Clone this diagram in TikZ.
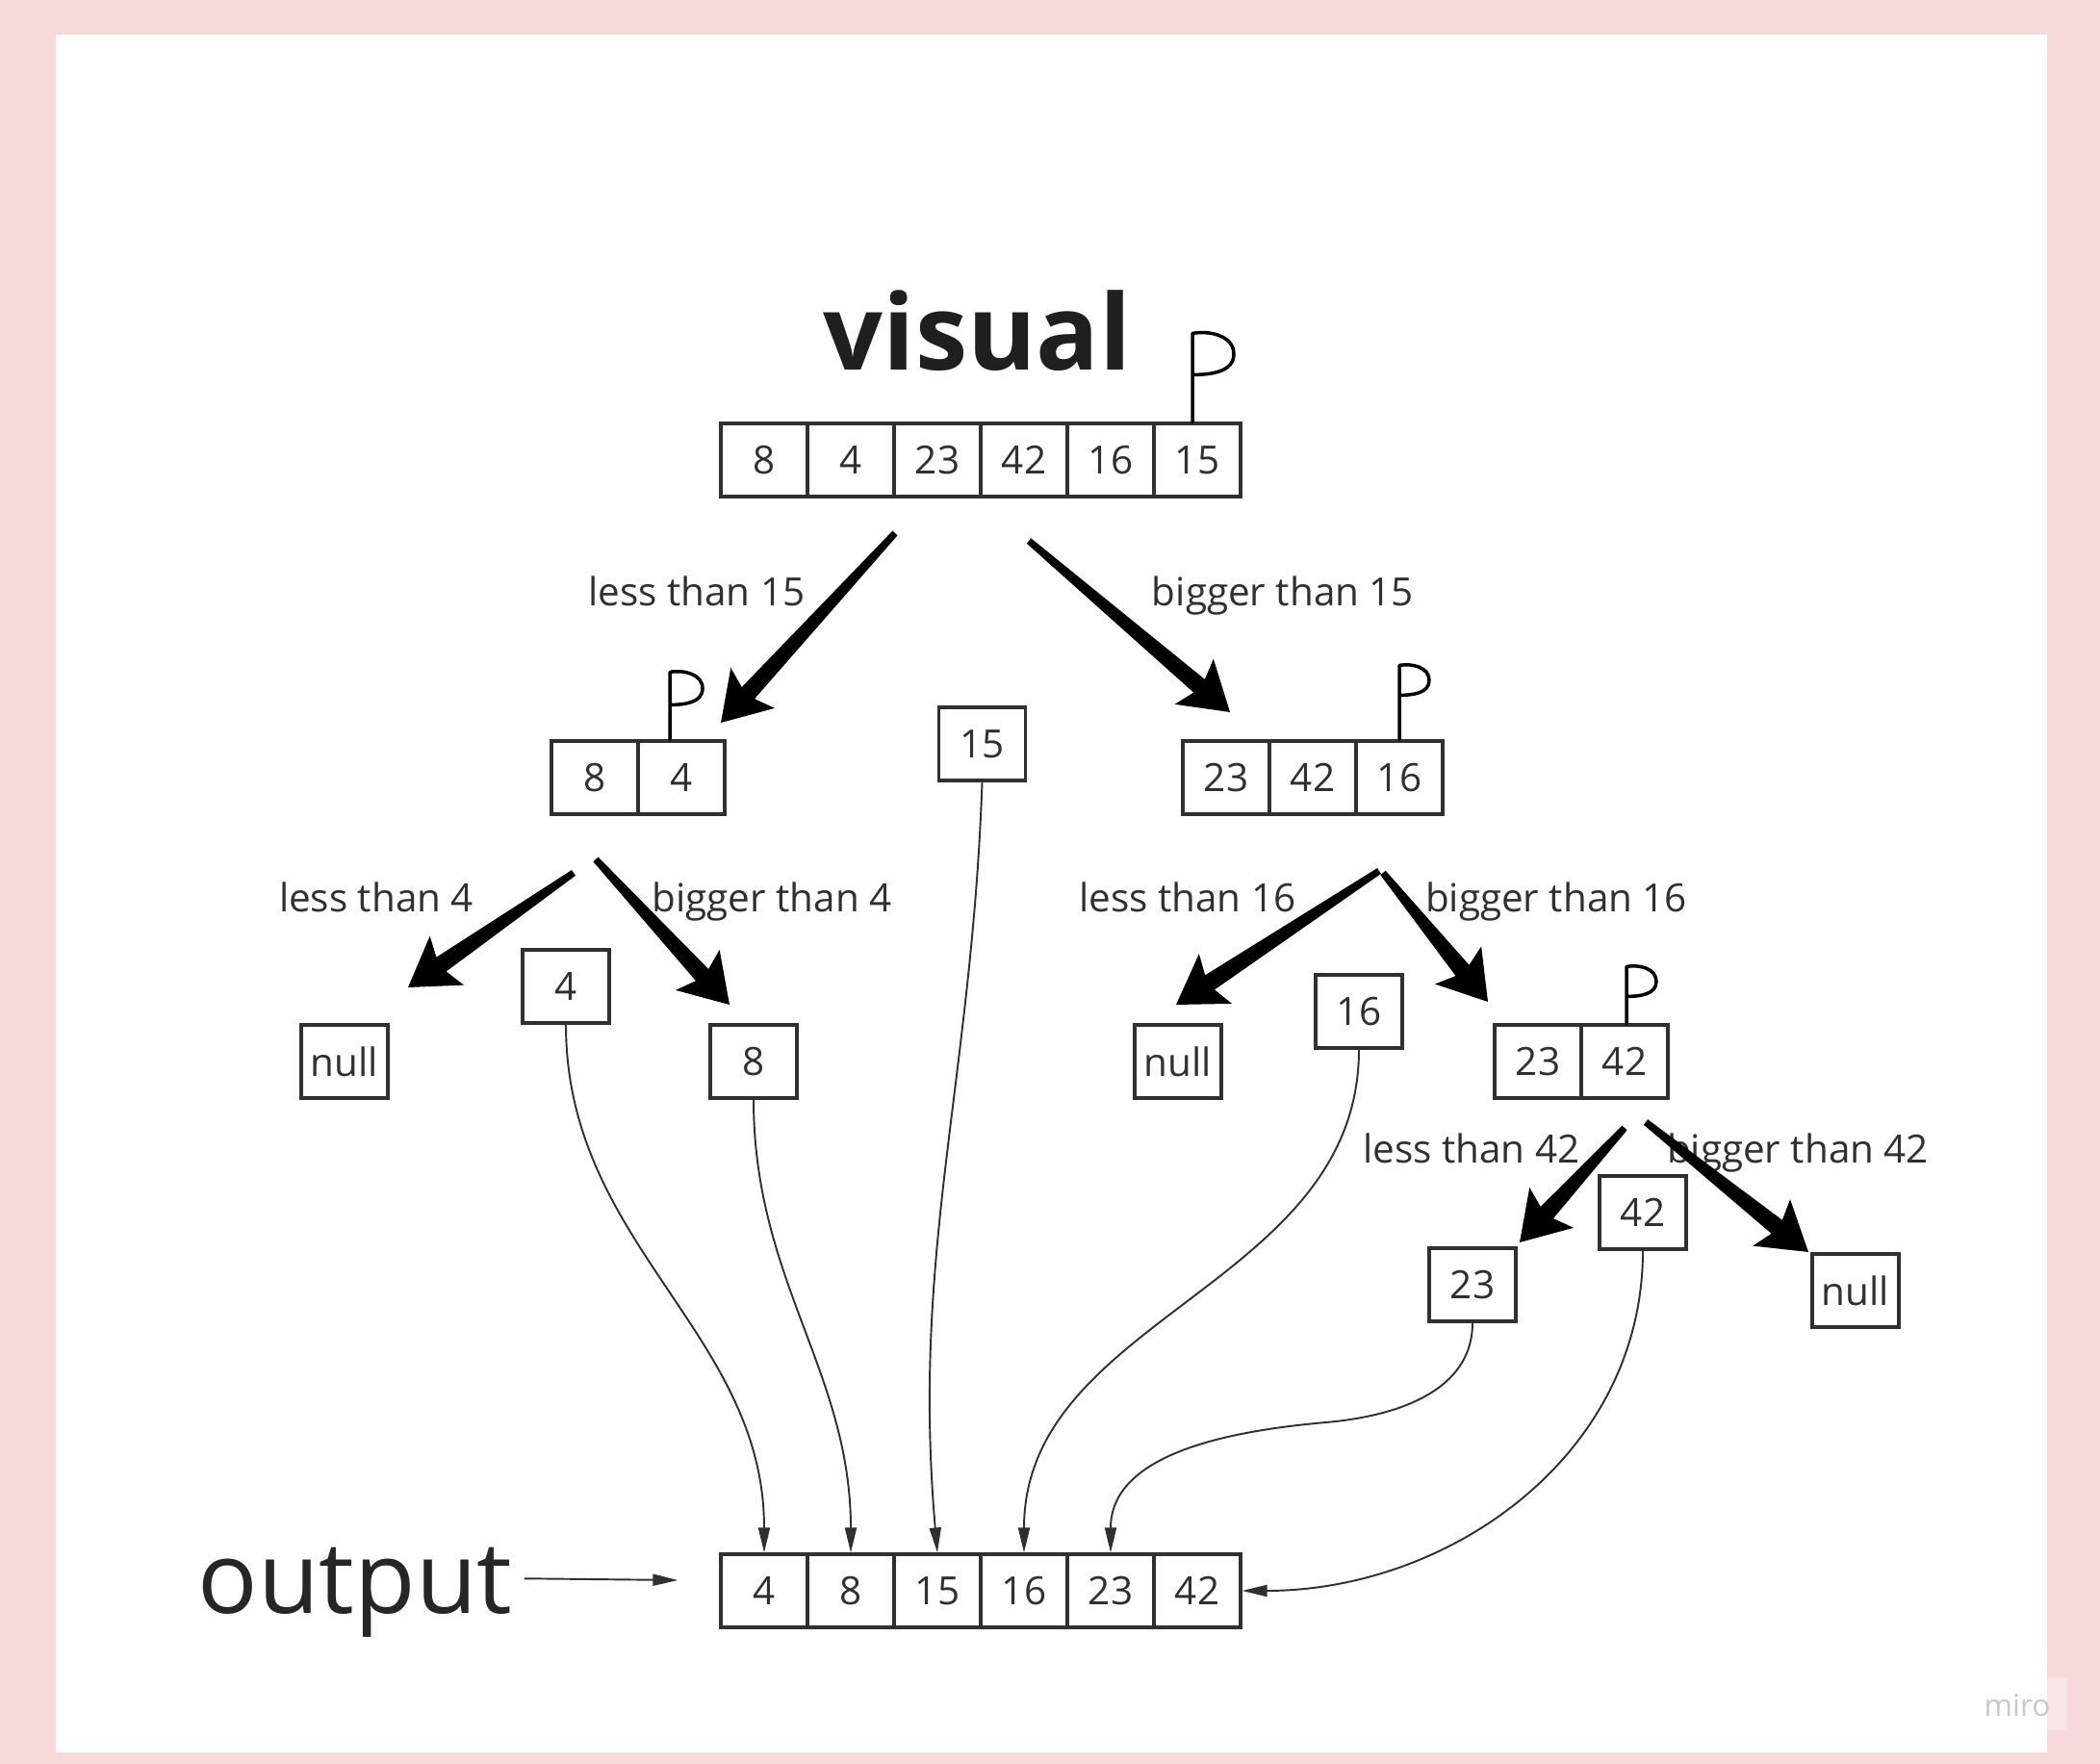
\documentclass[tikz,border=0pt]{standalone}
\usepackage{fontspec}
\setmainfont{Open Sans}
\usepackage{xcolor}
\usetikzlibrary{arrows.meta, positioning, calc}

\definecolor{bgpink}{RGB}{247,217,219}
\definecolor{wmpink}{RGB}{250,228,230}
\definecolor{ink}{RGB}{48,48,48}
\definecolor{wmgray}{RGB}{200,198,212}

% pivot flag above a cell: node, xshift, stem, loop size
\newcommand{\pflag}[4]{%
    \draw[flag] ([xshift=#2cm]#1.north) -- ++(0,#3)
        to[out=10,in=90] ++(#4,-0.5*#4) to[out=-90,in=0] ++(-#4,-0.5*#4);}

% tapered split arrow: tail, tip
\newcommand{\bigarrow}[2]{%
    \coordinate (jn) at ($(#2)!0.42cm!(#1)$);
    \coordinate (bb) at ($(#2)!0.49cm!(#1)$);
    \fill ($(#1)!0.035cm!90:(#2)$) -- ($(jn)!0.09cm!90:(#2)$) -- ($(bb)!0.31cm!90:(#2)$)
        -- (#2) -- ($(bb)!0.31cm!-90:(#2)$) -- ($(jn)!0.09cm!-90:(#2)$)
        -- ($(#1)!0.035cm!-90:(#2)$) -- cycle;}

\begin{document}
\begin{tikzpicture}[
    cell/.style={draw=ink, line width=0.9pt, minimum width=0.9cm, minimum height=0.76cm,
        inner sep=0pt, text=ink, font=\fontsize{11.5}{13}\selectfont},
    lbl/.style={text=ink, font=\fontsize{11.5}{13}\selectfont},
    flow/.style={draw=ink, line width=0.55pt, -{Triangle[length=0.26cm,width=0.12cm]}},
    flag/.style={line width=1pt, line cap=round, line join=round}
]
    % Frame
    \useasboundingbox (0,0) rectangle (21.82,18.33);
    \fill[bgpink] (0,0) rectangle (21.82,18.33);
    \fill[wmpink] (21.05,0.35) rectangle (21.48,0.90);
    \fill[white] (0.58,0.12) rectangle (21.27,17.97);

    % Title and input array
    \node[font=\fontsize{31}{36}\bfseries\selectfont, text=black!88, anchor=base] (title) at (10.16,14.48) {visual};
    \foreach \v [count=\i] in {8,4,23,42,16,15}
        \node[cell] (top\i) at (7.04+0.9*\i, 13.55) {\v};
    \pflag{top6}{-0.05}{0.92}{0.43}

    % First split
    \coordinate (a1s) at (9.30,12.79);
    \coordinate (a1e) at (7.49,10.82);
    \coordinate (a2s) at (10.69,12.71);
    \coordinate (a2e) at (12.78,10.93);
    \bigarrow{a1s}{a1e}
    \bigarrow{a2s}{a2e}
    \node[lbl] (lt15) at (7.24,12.19) {less than 15};
    \node[lbl] (bt15) at (13.33,12.14) {bigger than 15};

    \foreach \v [count=\i] in {8,4}
        \node[cell] (lft\i) at (5.28+0.9*\i, 10.25) {\v};
    \pflag{lft2}{-0.12}{0.70}{0.34}
    \node[cell] (piv15) at (10.205,10.60) {15};
    \foreach \v [count=\i] in {23,42,16}
        \node[cell] (rgt\i) at (11.84+0.9*\i, 10.25) {\v};
    \pflag{rgt3}{0}{0.77}{0.31}

    % Left branch
    \coordinate (b1s) at (5.96,9.26);
    \coordinate (b1e) at (4.24,8.07);
    \coordinate (b2s) at (6.19,9.40);
    \coordinate (b2e) at (7.58,7.89);
    \bigarrow{b1s}{b1e}
    \bigarrow{b2s}{b2e}
    \node[lbl] (lt4) at (3.91,9.01) {less than 4};
    \node[lbl] (bt4) at (8.02,8.96) {bigger than 4};
    \node[cell] (nullA) at (3.58,7.30) {null};
    \node[cell] (box4) at (5.88,8.08) {4};
    \node[cell] (box8) at (7.83,7.30) {8};

    % Right branch
    \coordinate (c1s) at (14.33,9.28);
    \coordinate (c1e) at (12.22,7.89);
    \coordinate (c2s) at (14.37,9.26);
    \coordinate (c2e) at (15.46,7.92);
    \bigarrow{c1s}{c1e}
    \bigarrow{c2s}{c2e}
    \node[lbl] (lt16) at (12.34,9.01) {less than 16};
    \node[lbl] (bt16) at (16.17,8.96) {bigger than 16};
    \node[cell] (nullB) at (12.24,7.30) {null};
    \node[cell] (box16) at (14.12,7.82) {16};
    \foreach \v [count=\i] in {23,42}
        \node[cell] (sub\i) at (15.08+0.9*\i, 7.30) {\v};
    \pflag{sub2}{0.02}{0.59}{0.31}

    % Last split
    \coordinate (d1s) at (16.88,6.61);
    \coordinate (d1e) at (15.79,5.42);
    \coordinate (d2s) at (17.10,6.67);
    \coordinate (d2e) at (18.79,5.32);
    \node[lbl] (lt42) at (15.29,6.40) {less than 42};
    \node[lbl] (bt42) at (18.68,6.35) {bigger than 42};
    \bigarrow{d1s}{d1e}
    \bigarrow{d2s}{d2e}
    \node[cell] (box23) at (15.30,4.98) {23};
    \node[cell] (box42) at (17.07,5.73) {42};
    \node[cell] (nullC) at (19.28,4.92) {null};

    % Output
    \foreach \v [count=\i] in {4,8,15,16,23,42}
        \node[cell] (out\i) at (7.04+0.9*\i, 1.80) {\v};
    \node[font=\fontsize{29.5}{36}\selectfont, text=black!85, anchor=base] (outlbl) at (3.69,1.56) {output};
    \draw[flow] ([yshift=0.15cm]outlbl.east) -- ([xshift=-0.43cm,yshift=0.11cm]out1.west);

    % Merge back
    \coordinate (bend5) at (13.78,3.55);
    \draw[flow] (box4.south) to[out=-90,in=90] (out1.north);
    \draw[flow] (box8.south) to[out=-90,in=90] (out2.north);
    \draw[flow] (piv15.south) to[out=-92,in=95] (out3.north);
    \draw[flow] (box16.south) to[out=-90,in=90] (out4.north);
    \draw[flow] (box23.south) to[out=-90,in=5] (bend5) to[out=185,in=90] (out5.north);
    \draw[flow] (box42.south) to[out=-90,in=0] (out6.east);

    \node[font=\fontsize{9}{10}\selectfont, text=wmgray] (miro) at (20.96,0.61) {miro};
\end{tikzpicture}
\end{document}
